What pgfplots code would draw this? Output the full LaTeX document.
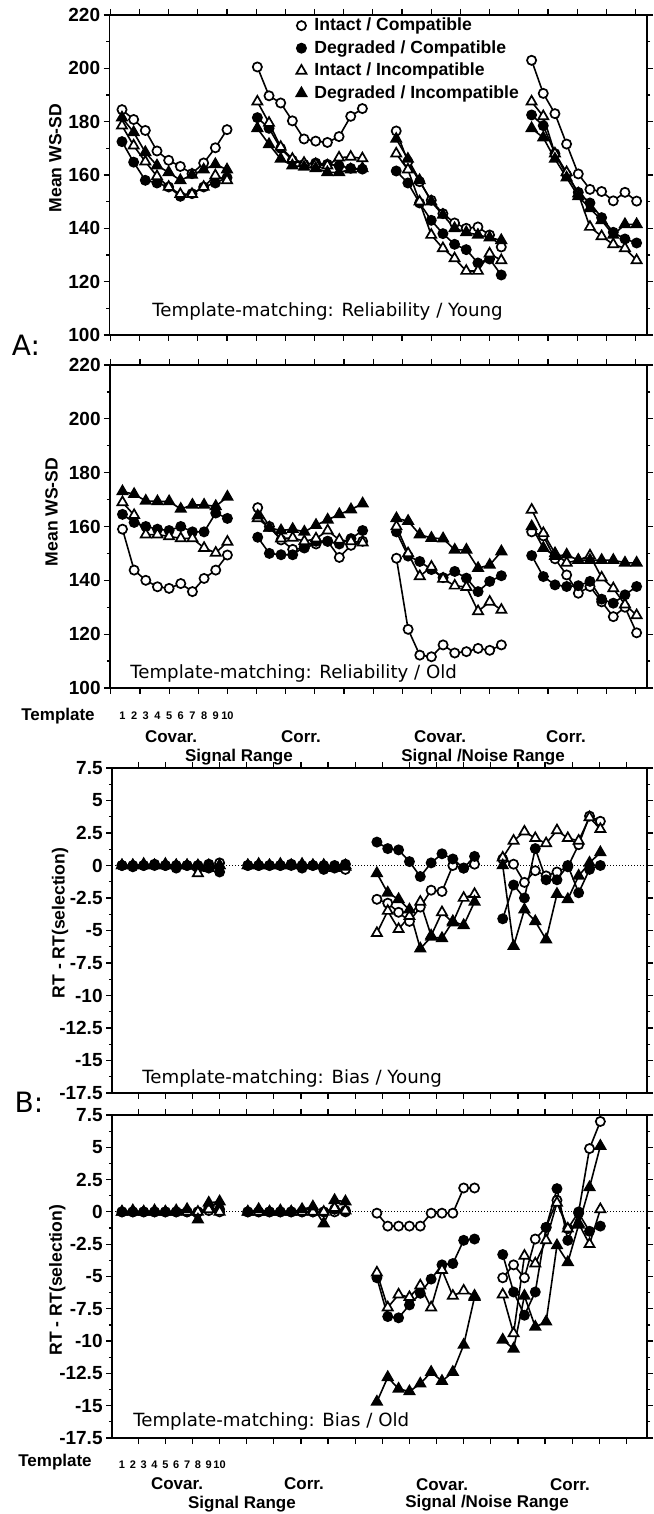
\documentclass[border=0pt]{standalone}
\usepackage{fontspec}
\setmainfont{Liberation Sans}
\newfontfamily\titlefont{DejaVu Sans}
\usepackage{pgfplots}
\usepackage{pgfplotstable}
\pgfplotsset{compat=1.18}

% x = template index + group offset (groups: Signal Covar., Signal Corr., S/N Covar., S/N Corr.)
\pgfplotstableread{
x IC DC II DI
1 184.5 172.5 178.5 181.5
2 180.8 164.8 171 176
3 176.7 158 165 168.5
4 169 157 159.5 163.5
5 165.5 155.5 155.5 161
6 163.2 152 152.8 158
7 160.5 153 152.8 160
8 164.5 155.5 155.5 162
9 170.2 157 159.8 164
10 177 159 158 162
nan nan nan nan nan
12.6 200.5 181.5 187.5 177.5
13.6 189.7 177.5 179.5 171.5
14.6 187 170 170.5 166
15.6 180.3 165.5 166 163.5
16.6 173.5 164 164.5 163
17.6 172.7 164.5 164 162.5
18.6 172.2 164 163.5 161
19.6 174.4 163.5 166.5 161
20.6 182 162.5 166.8 162
21.6 184.9 162.2 166.2 162.5
nan nan nan nan nan
24.5 176.5 161.5 168 173.5
25.5 165 157 162 166
26.5 157.5 149.5 150 158
27.5 150.5 143 137.5 150
28.5 145.5 138 132.5 145
29.5 142 134 128.7 140
30.5 140 132 124 138.5
31.5 140.5 127 124 137.5
32.5 137.5 128.5 130.5 136.5
33.5 133 122.5 128 135.5
nan nan nan nan nan
36.1 203 182.5 187.5 177.5
37.1 190.6 178.5 182 174
38.1 183 168 168 166
39.1 171.6 160 161 159
40.1 160.4 153.5 153 152
41.1 154.6 149.5 140.5 147.5
42.1 153.8 144 137 143
43.1 150.3 138.5 134 137.5
44.1 153.5 136 132.5 141.5
45.1 150.2 134.5 128 141.5
}\tabYoungRel

\pgfplotstableread{
x IC DC II DI
1 159 164.5 169 173
2 143.8 161.5 164.2 172
3 140 160 157 169.5
4 137.6 159 157 169.3
5 137 158.5 156.3 169.3
6 138.8 160 155.6 166.5
7 135.8 158 155.6 168
8 140.7 158 152 168
9 143.8 165 150.2 167.5
10 149.4 163 154.3 171
nan nan nan nan nan
12.6 167 156 163 164
13.6 160 150 159.5 159.5
14.6 155 149.5 155.5 158.5
15.6 151.5 149.5 155.8 159
16.6 152 152.5 154.5 158
17.6 153.5 154.5 155.5 160.5
18.6 154.5 154.5 158.5 162.5
19.6 148.5 153.5 155 164.5
20.6 153 155.5 154.5 166.3
21.6 154.5 158.5 154 168.5
nan nan nan nan nan
24.5 148.2 158 160 163
25.5 121.8 149 150 162
26.5 112.2 147 141.5 157
27.5 111.6 144 145 155.7
28.5 116 141 140.5 155.5
29.5 113 143.3 138 151.3
30.5 113.5 140.8 137.5 151.3
31.5 114.7 135.8 128.5 144.5
32.5 114 139.6 132 145.7
33.5 116 141.7 129 150.7
nan nan nan nan nan
36.1 158 149.2 166.2 160
37.1 156.5 141.4 157.5 152
38.1 148 138.3 150 149
39.1 142 137.7 146.5 149.5
40.1 135.2 138 147.5 147.5
41.1 137.7 139.6 149.2 147.5
42.1 132 133 141 147.5
43.1 126.5 131.5 137 147.5
44.1 130 134.6 131 146.5
45.1 120.5 137.7 127 146.5
}\tabOldRel

\pgfplotstableread{
x IC DC II DI
1 0 0 0 0
2 0 -0.1 0 0
3 0 0 0 0.1
4 0 0.1 0 0
5 0 0 0 0.1
6 0 -0.2 0 0
7 0 0 0 0
8 0 -0.1 -0.6 0
9 -0.2 0.1 0 -0.2
10 0.2 -0.5 0 0
nan nan nan nan nan
12.6 0 0 0 0
13.6 0 0 0 0.1
14.6 0 0 0 0
15.6 0 0 0 0.1
16.6 0 0.1 0 0
17.6 0 -0.2 0 0.1
18.6 0 0 0 0
19.6 0 -0.3 0 0
20.6 -0.2 0 -0.2 -0.2
21.6 -0.3 0.1 -0.1 0
nan nan nan nan nan
24.5 -2.6 1.8 -5.2 -0.6
25.5 -2.9 1.3 -3.5 -2.1
26.5 -3.6 1.2 -4.9 -2.6
27.5 -4.3 0.3 -3.9 -3.4
28.5 -3.2 -0.85 -2.8 -6.4
29.5 -1.9 0.2 -5.4 -5.5
30.5 -2.0 0.9 -3.6 -5.6
31.5 0 0.5 -4.4 -4.3
32.5 -0.2 -0.2 -2.5 -4.6
33.5 0.1 0.7 -2.2 -2.8
nan nan nan nan nan
36.1 0.5 -4.1 0.6 0
37.1 0.1 -1.5 1.9 -6.2
38.1 -1.3 -2.5 2.6 -3.4
39.1 -0.4 1.3 2.1 -4.3
40.1 -0.8 -1.1 1.7 -5.7
41.1 -0.5 -1.1 2.7 -2.2
42.1 -0.1 0 2.1 -2.6
43.1 1.6 -2.1 1.9 -0.8
44.1 3.8 -0.3 3.7 0.2
45.1 3.4 0 2.8 1.0
}\tabYoungBias

\pgfplotstableread{
x IC DC II DI
1 0 0 0 0
2 0 0 0 0.1
3 0 0 0 0
4 0 0 0 0.1
5 0 0 0 0
6 0 0 0 0.1
7 0 0 0 0.2
8 0 0 0 -0.6
9 0.1 0.3 0.2 0.7
10 0 0.2 0 0.8
nan nan nan nan nan
12.6 0 0 0 0
13.6 0 0 0 0.2
14.6 0 0 0 0
15.6 0 0 0 0.1
16.6 0 0 0 0
17.6 0 0 0 0.2
18.6 0 0 0 0.4
19.6 0 0 0 -0.9
20.6 0 0.2 0.3 0.9
21.6 0 0.1 0.1 0.8
nan nan nan nan nan
24.5 -0.1 -5.1 -4.7 -14.7
25.5 -1.1 -8.1 -7.4 -12.8
26.5 -1.1 -8.2 -6.4 -13.7
27.5 -1.1 -7.2 -6.6 -13.9
28.5 -1.1 -6.3 -5.7 -13.3
29.5 -0.1 -5.2 -7.4 -12.4
30.5 -0.1 -4.1 -4.5 -13.1
31.5 -0.1 -4.0 -6.5 -12.4
32.5 1.85 -2.2 -6.1 -10.3
33.5 1.85 -2.1 -6.5 -6.6
nan nan nan nan nan
36.1 -5.1 -3.3 -6.4 -9.9
37.1 -4.1 -6.2 -9.4 -10.6
38.1 -5.1 -8.0 -3.4 -6.5
39.1 -2.1 -6.2 -4.0 -8.9
40.1 -1.2 -1.2 -2.2 -8.5
41.1 0.9 1.8 0.7 -2.6
42.1 -1.3 -2.2 -1.3 -3.9
43.1 0.0 -0.1 -0.9 -1.0
44.1 4.9 -1.5 -2.5 1.9
45.1 7.0 -1.1 0.2 5.1
}\tabOldBias

\tikzset{
  ttl/.style={font=\titlefont\fontsize{9.1}{10}\selectfont, anchor=west, inner sep=0pt},
  lab/.style={font=\bfseries\fontsize{8.5}{10}\selectfont},
  num/.style={font=\bfseries\fontsize{5.5}{6}\selectfont},
}
\pgfplotsset{
  panel/.style={
    scale only axis, anchor=south west,
    unbounded coords=jump,
    axis line style={line width=0.75pt},
    tick align=outside,
    major tick length=3pt, minor tick length=1.6pt,
    every tick/.style={black, line width=0.6pt},
    xtick={0,2.5,...,50}, xticklabels={},
    tick label style={font=\bfseries\fontsize{9.5}{10}\selectfont},
    yticklabel style={inner sep=1.5pt},
    /pgf/number format/assume math mode=true,
    ylabel style={font=\bfseries\fontsize{8.8}{10}\selectfont, anchor=center},
    clip=false,
  },
  relpanel/.style={panel, ymin=100, ymax=220, ytick={100,120,...,220}, minor y tick num=1, xmin=-0.07, xmax=45.99},
  biaspanel/.style={panel, ymin=-17.5, ymax=7.5, ytick={-17.5,-15,-12.5,-10,-7.5,-5,-2.5,0,2.5,5,7.5},
     yticklabels={-17.5,-15,-12.5,-10,-7.5,-5,-2.5,0,2.5,5,7.5}, minor y tick num=1, xmin=0.08, xmax=49.4},
  sIC/.style={line width=0.8pt, black, mark=*, mark size=2.3pt, mark options={solid, draw=black, fill=white, line width=0.85pt}},
  sDC/.style={line width=0.8pt, black, mark=*, mark size=2.3pt, mark options={solid, draw=black, fill=black, line width=0.85pt}},
  sII/.style={line width=0.8pt, black, mark=triangle*, mark size=2.9pt, mark options={solid, draw=black, fill=white, line width=0.85pt}},
  sDI/.style={line width=0.8pt, black, mark=triangle*, mark size=2.9pt, mark options={solid, draw=black, fill=black, line width=0.85pt}},
}

\begin{document}
\begin{tikzpicture}
\useasboundingbox (0,0) rectangle (326.5pt,757pt);

% ---------- Panel 1: Reliability / Young
\begin{axis}[relpanel, at={(54.75pt,589.5pt)}, width=268.75pt, height=160pt,
  ylabel={Mean WS-SD}, ylabel style={at={(axis description cs:-0.101,0.553)}},
  legend style={draw=none, fill=none, at={(axis description cs:0.347,1.005)}, anchor=north west,
    font=\bfseries\fontsize{8.8}{10}\selectfont, row sep=-0.6pt, inner sep=0pt,
    /tikz/every odd column/.append style={column sep=2pt}},
  legend cell align=left,
  legend image code/.code={\draw[#1] plot coordinates {(0.1cm,0cm)};}]
\addplot[sIC] table[x=x,y=IC]{\tabYoungRel};
\addplot[sDC] table[x=x,y=DC]{\tabYoungRel};
\addplot[sII] table[x=x,y=II]{\tabYoungRel};
\addplot[sDI] table[x=x,y=DI]{\tabYoungRel};
\legend{Intact / Compatible, Degraded / Compatible, Intact / Incompatible, Degraded / Incompatible}
\node[ttl] at (axis description cs:0.079,0.072) {Template-matching: Reliability / Young};
\end{axis}

% ---------- Panel 2: Reliability / Old
\begin{axis}[relpanel, at={(55pt,413pt)}, width=268.5pt, height=161.5pt,
  ylabel={Mean WS-SD}, ylabel style={at={(axis description cs:-0.109,0.545)}}]
\addplot[sIC] table[x=x,y=IC]{\tabOldRel};
\addplot[sDC] table[x=x,y=DC]{\tabOldRel};
\addplot[sII] table[x=x,y=II]{\tabOldRel};
\addplot[sDI] table[x=x,y=DI]{\tabOldRel};
\node[ttl] at (axis description cs:0.037,0.046) {Template-matching: Reliability / Old};
\pgfplotsinvokeforeach{1,...,10}{\node[num] at (axis cs:#1,100) [yshift=-14pt] {#1};}
\end{axis}

% ---------- Panel 3: Bias / Young
\begin{axis}[biaspanel, at={(56pt,210.5pt)}, width=267.5pt, height=162.5pt,
  ylabel={RT - RT(selection)}, ylabel style={at={(axis description cs:-0.097,0.523)}}]
\addplot[densely dotted, line width=0.5pt, forget plot] coordinates {(0.08,0) (49.4,0)};
\addplot[sIC] table[x=x,y=IC]{\tabYoungBias};
\addplot[sDC] table[x=x,y=DC]{\tabYoungBias};
\addplot[sII] table[x=x,y=II]{\tabYoungBias};
\addplot[sDI] table[x=x,y=DI]{\tabYoungBias};
\node[ttl] at (axis description cs:0.056,0.046) {Template-matching: Bias / Young};
\end{axis}

% ---------- Panel 4: Bias / Old
\begin{axis}[biaspanel, at={(56pt,38pt)}, width=267.5pt, height=161.5pt,
  ylabel={RT - RT(selection)}, ylabel style={at={(axis description cs:-0.102,0.489)}}]
\addplot[densely dotted, line width=0.5pt, forget plot] coordinates {(0.08,0) (49.4,0)};
\addplot[sIC] table[x=x,y=IC]{\tabOldBias};
\addplot[sDC] table[x=x,y=DC]{\tabOldBias};
\addplot[sII] table[x=x,y=II]{\tabOldBias};
\addplot[sDI] table[x=x,y=DI]{\tabOldBias};
\node[ttl] at (axis description cs:0.039,0.05) {Template-matching: Bias / Old};
\pgfplotsinvokeforeach{1,...,10}{\node[num] at (axis cs:#1,-17.5) [yshift=-13.5pt] {#1};}
\end{axis}

% ---------- free texts
\node[font=\titlefont\fontsize{14}{16}\selectfont] at (13pt,584.5pt) {A:};
\node[font=\titlefont\fontsize{14}{16}\selectfont] at (14.5pt,206pt) {B:};

\node[lab] at (29pt,399pt) {Template};
\node[lab] at (85.5pt,388.5pt) {Covar.};
\node[lab] at (150.5pt,388.5pt) {Corr.};
\node[lab] at (220pt,388.5pt) {Covar.};
\node[lab] at (283pt,388.5pt) {Corr.};
\node[lab] at (119.5pt,378.5pt) {Signal Range};
\node[lab] at (241.5pt,378.5pt) {Signal /Noise Range};

\node[lab] at (27.5pt,26pt) {Template};
\node[lab] at (88.5pt,15pt) {Covar.};
\node[lab] at (152pt,15pt) {Corr.};
\node[lab] at (221pt,14.5pt) {Covar.};
\node[lab] at (285pt,14.5pt) {Corr.};
\node[lab] at (121pt,5pt) {Signal Range};
\node[lab] at (243.5pt,5.5pt) {Signal /Noise Range};
\end{tikzpicture}
\end{document}
